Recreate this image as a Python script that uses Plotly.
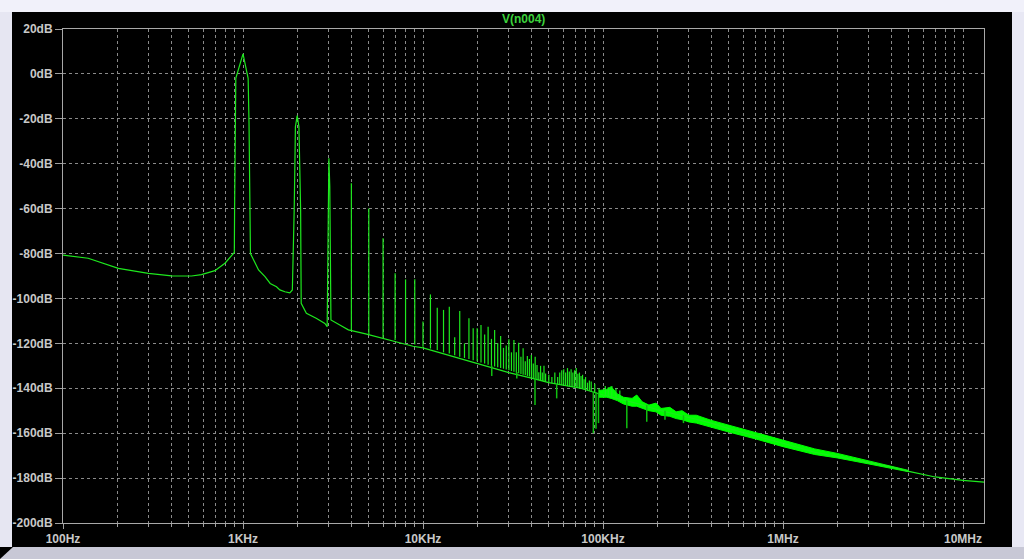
import plotly.graph_objects as go

# ---------------- data ----------------
# main curve: noise floor with the fundamental, 2nd and 3rd harmonic shapes
curve_freq = [100, 138, 203, 298, 401, 518, 588, 698, 794, 869, 895,
              898, 903, 912, 1000, 1068, 1080, 1090, 1100,
              1170, 1220, 1325, 1416, 1535, 1602, 1709, 1820, 1880,
              1900, 1925, 1940, 1955, 2000, 2045, 2070, 2090, 2105,
              2250, 2550, 2850, 2935,
              2965, 3000, 3035, 3055, 3080,
              3450, 3850, 4800, 5770, 7000, 8800, 10000, 13500, 20000,
              30000, 40000, 50000, 75000, 100000, 150000, 200000, 300000,
              400000, 500000, 700000, 1000000, 1500000, 2000000, 3000000,
              4000000, 5000000, 7000000, 10000000, 13100000]
curve_db = [-80.7, -82.1, -86.6, -88.8, -89.9, -90.0, -89.4, -87.6, -84.3, -80.7, -79.5,
            -60.6, -22.0, -2.0, 8.9, -2.0, -22.0, -60.6, -80.0,
            -84.3, -87.3, -90.3, -93.3, -94.8, -96.2, -97.0, -97.5, -96.2,
            -82.9, -60.6, -42.8, -23.5, -18.6, -23.5, -44.0, -60.6, -102.2,
            -106.6, -108.8, -111.1, -112.6,
            -56.9, -37.6, -50.2, -78.4, -109.6,
            -111.8, -114.0, -115.8, -117.5, -119.3, -121.3, -122.0, -125.0, -129.0,
            -133.0, -135.5, -137.5, -140.0, -143.0, -146.5, -149.5, -153.0,
            -155.5, -158.0, -161.0, -164.5, -168.5, -170.5, -173.0,
            -175.0, -177.0, -179.5, -181.0, -181.8]

# harmonic / spur spikes: frequency, top of spike, foot on the noise floor
spike_freq = [4000, 5000, 6000, 7000, 8000, 9000, 10000, 11000, 12000, 13000,
              14000, 15000, 16000, 17000, 18000, 19000, 20000, 21000, 22000, 23000,
              24000, 25000, 26000, 27000, 28000, 29000, 30000, 31000, 32000, 33000,
              34000, 35000, 36000, 37000, 38000, 39000, 40000, 41000, 42000, 43000,
              44000, 45000, 46000, 47000, 48000, 50000, 52000, 54000, 56000, 57500,
              59000, 60500, 62000, 63500, 65000, 66500, 68000, 69500, 71000, 72500,
              74000, 75500, 77000, 78500, 80000, 82000, 84000, 86000, 90000, 95000,
              103000, 107000, 112000, 118000, 124000]
spike_top = [-48.7, -59.9, -73.2, -88.8, -91.5, -91.5, -110.3, -98.2, -104.1, -105.1,
             -103.7, -117.3, -105.6, -120.0, -108.8, -113.3, -113.3, -111.8, -116.0, -112.6,
             -118.0, -114.0, -120.0, -116.7, -122.0, -121.0, -118.2, -124.0, -118.5, -124.0,
             -119.7, -126.0, -122.2, -128.0, -125.6, -127.0, -125.2, -129.0, -126.0, -129.6,
             -132.9, -130.0, -133.0, -130.0, -133.4, -134.0, -135.0, -133.0, -135.0, -133.0,
             -132.0, -131.5, -133.0, -131.0, -132.5, -131.5, -133.0, -132.0, -131.0, -133.5,
             -133.0, -134.5, -134.0, -136.0, -135.0, -137.5, -136.5, -137.0, -138.0, -140.0,
             -139.0, -139.5, -139.0, -140.0, -141.0]
spike_foot = [-114.5, -116.0, -117.5, -118.5, -119.5, -120.5, -121.5, -122.3, -123.0, -124.0,
              -124.5, -125.3, -126.0, -126.5, -127.0, -127.5, -128.0, -128.5, -129.0, -129.5,
              -130.0, -130.3, -130.6, -131.0, -131.3, -131.6, -132.0, -132.3, -132.6, -133.0,
              -133.3, -133.6, -134.0, -134.2, -134.5, -134.8, -135.2, -135.5, -135.8, -136.0,
              -136.3, -136.5, -136.8, -137.0, -137.2, -137.5, -137.8, -138.1, -138.4, -138.5,
              -138.7, -138.8, -139.0, -139.1, -139.3, -139.4, -139.6, -139.7, -139.8, -139.9,
              -140.0, -140.1, -140.2, -140.4, -140.6, -140.8, -141.1, -141.4, -142.0, -142.5,
              -143.3, -143.8, -144.3, -145.0, -145.6]

# downward spikes (notches): frequency, bottom, foot
dip_freq = [24100, 33200, 41900, 55300, 88400, 91400, 94400, 135600, 175000, 221000, 280000]
dip_bottom = [-134.5, -135.6, -147.5, -144.5, -160.0, -158.0, -155.5, -157.8, -154.9, -154.0, -155.5]
dip_foot = [-130.0, -132.7, -135.7, -138.2, -141.5, -141.8, -142.0, -145.5, -147.5, -150.0, -152.0]

# thick noise band at high frequency: upper and lower envelopes (scalloped)
band_freq = [95000, 105000, 111000, 120000, 130000, 145000, 154000, 165000, 180000, 197000,
             210000, 235000, 255000, 275000, 300000, 330000, 400000, 500000,
             700000, 1000000, 1500000, 2000000, 3000000, 4000000, 5000000]
band_hi = [-141.0, -140.5, -139.3, -142.5, -144.0, -144.5, -143.0, -146.0, -147.5, -146.6,
           -149.0, -148.5, -150.5, -150.0, -152.0, -152.0, -154.3, -156.5,
           -159.5, -163.0, -167.0, -169.0, -172.3, -174.5, -176.6]
band_lo = [-144.0, -144.0, -144.5, -145.5, -147.0, -148.0, -148.0, -149.0, -150.0, -150.5,
           -152.0, -152.5, -153.5, -154.0, -155.0, -155.5, -157.5, -159.5,
           -162.5, -166.0, -169.5, -171.0, -173.7, -175.5, -177.2]

x_tick_vals = [100, 1e3, 1e4, 1e5, 1e6, 1e7]
x_tick_text = ["100Hz", "1KHz", "10KHz", "100KHz", "1MHz", "10MHz"]
y_tick_vals = [20, 0, -20, -40, -60, -80, -100, -120, -140, -160, -180, -200]
y_tick_text = [f"{v}dB" for v in y_tick_vals]
x_minor_vals = [m * 10 ** d for d in range(2, 8) for m in range(2, 10)]
trace_title = "V(n004)"

# ---------------- figure ----------------
GREEN = "#1ee81e"
fig = go.Figure()

fig.add_trace(go.Scatter(x=band_freq, y=band_lo, mode="lines",
                         line=dict(color="#00ff00", width=1), hoverinfo="skip", showlegend=False))
fig.add_trace(go.Scatter(x=band_freq, y=band_hi, mode="lines", fill="tonexty",
                         fillcolor="#00ff00", line=dict(color="#00ff00", width=1),
                         hoverinfo="skip", showlegend=False))

fig.add_trace(go.Scatter(x=curve_freq, y=curve_db, mode="lines",
                         line=dict(color=GREEN, width=1.2), showlegend=False))

sx, sy = [], []
for f, top, foot in zip(spike_freq, spike_top, spike_foot):
    sx += [f, f, None]
    sy += [foot, top, None]
fig.add_trace(go.Scatter(x=sx, y=sy, mode="lines", line=dict(color=GREEN, width=1.2),
                         showlegend=False, connectgaps=False))

dx, dy = [], []
for f, bot, foot in zip(dip_freq, dip_bottom, dip_foot):
    dx += [f, f, None]
    dy += [foot, bot, None]
fig.add_trace(go.Scatter(x=dx, y=dy, mode="lines", line=dict(color="#10c010", width=1.5),
                         showlegend=False, connectgaps=False))

# plot area in pixels: x 63..984, y 29..523
L, R, T, B = 63, 984, 29, 523
W, H = R - L, B - T


def px(xp):
    return (xp - L) / W


def py(yp):
    return (B - yp) / H


shapes = [
    dict(type="rect", xref="paper", yref="paper", x0=px(0), x1=px(1024), y0=py(0), y1=py(12),
         fillcolor="#f1f1fa", line=dict(width=0), layer="below"),
    dict(type="rect", xref="paper", yref="paper", x0=px(0), x1=px(12), y0=py(12), y1=py(547),
         fillcolor="#e6e6f2", line=dict(width=0), layer="below"),
    dict(type="rect", xref="paper", yref="paper", x0=px(1012), x1=px(1024), y0=py(12), y1=py(547),
         fillcolor="#e8e8f4", line=dict(width=0), layer="below"),
    dict(type="path", xref="paper", yref="paper",
         path=f"M {px(0)},{py(559)} L {px(13)},{py(547)} L {px(1024)},{py(547)} L {px(1024)},{py(559)} Z",
         fillcolor="#c8c8d6", line=dict(width=0), layer="below"),
]

label_font = dict(family="Liberation Sans, Arial, sans-serif", size=12, color="#c8c8c8", weight="bold")
grid = dict(showgrid=True, gridcolor="#8a8a8a", gridwidth=1, griddash="3px,3px")

fig.update_layout(
    width=1024, height=559,
    margin=dict(l=L, r=1024 - R, t=T, b=559 - B, pad=0),
    paper_bgcolor="#000000",
    plot_bgcolor="#000000",
    shapes=shapes,
    showlegend=False,
    annotations=[dict(text=trace_title, xref="paper", yref="paper", x=0.5, y=py(19),
                      xanchor="center", yanchor="middle", showarrow=False,
                      font=dict(family="Liberation Sans, Arial, sans-serif", size=12,
                                color="#3cd23c", weight="bold"))],
    xaxis=dict(type="log", range=[2, 2 + W / 180.0], tickmode="array",
               tickvals=x_tick_vals, ticktext=x_tick_text, tickfont=label_font,
               ticks="outside", ticklen=5, tickcolor="#a0a0a0", tickwidth=1,
               showline=True, mirror=True, linecolor="#a8a8a8", linewidth=1,
               zeroline=False, **grid,
               minor=dict(tickmode="array", tickvals=x_minor_vals, ticks="outside",
                          ticklen=3, tickcolor="#a0a0a0", showgrid=True,
                          gridcolor="#8a8a8a", griddash="3px,3px", gridwidth=1)),
    yaxis=dict(range=[-200, 20], tickmode="array", tickvals=y_tick_vals,
               ticktext=y_tick_text, tickfont=label_font,
               ticks="outside", ticklen=7, tickcolor="#a0a0a0", tickwidth=1,
               showline=True, mirror=True, linecolor="#a8a8a8", linewidth=1,
               zeroline=False, **grid),
)

fig.write_html("out.html", config={"displayModeBar": False},
               post_script="document.body.style.margin='0';document.body.style.overflow='hidden';")
